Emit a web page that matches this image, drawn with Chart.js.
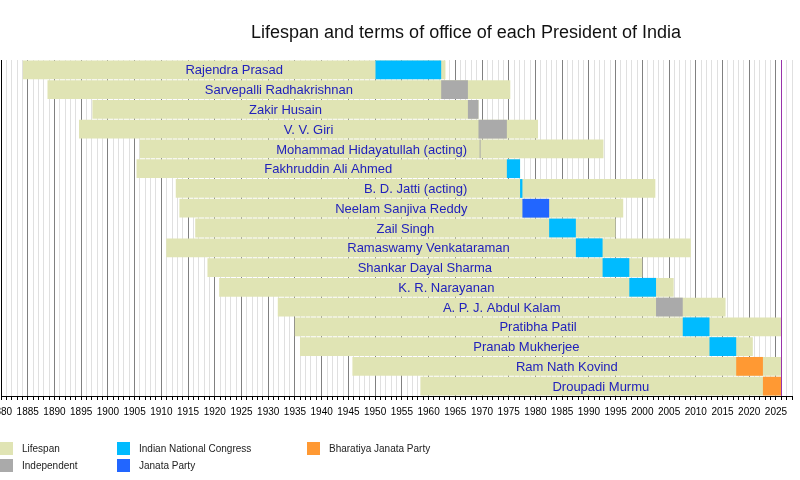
<!DOCTYPE html>
<html>
<head>
<meta charset="utf-8">
<script src="https://cdn.jsdelivr.net/npm/chart.js@4/dist/chart.umd.min.js"></script>
<style>
	html, body { margin: 0; padding: 0; background: #fff; }
	#wrap { position: relative; width: 800px; height: 480px; }
</style>
</head>
<body>
<div id="wrap"><canvas id="presidents"></canvas></div>
<script>
const NOW = 2026.0;

const names = [
	"Rajendra Prasad",
	"Sarvepalli Radhakrishnan",
	"Zakir Husain",
	"V. V. Giri",
	"Mohammad Hidayatullah (acting)",
	"Fakhruddin Ali Ahmed",
	"B. D. Jatti (acting)",
	"Neelam Sanjiva Reddy",
	"Zail Singh",
	"Ramaswamy Venkataraman",
	"Shankar Dayal Sharma",
	"K. R. Narayanan",
	"A. P. J. Abdul Kalam",
	"Pratibha Patil",
	"Pranab Mukherjee",
	"Ram Nath Kovind",
	"Droupadi Murmu",
];

const birthYears = [1884.1, 1888.7, 1897.1, 1894.6, 1905.96, 1905.36, 1912.7, 1913.38, 1916.34, 1910.92, 1918.63, 1920.82, 1931.79, 1934.97, 1935.94, 1945.75, 1958.47];
const deathYears = [1963.16, 1975.29, 1969.34, 1980.48, 1992.72, 1977.12, 2002.43, 1996.42, 1994.98, 2009.07, 1999.99, 2005.86, 2015.57, NOW, 2020.67, NOW, NOW];

const termStart = [1950.07, 1962.36, 1967.36, 1969.34, 1969.55, 1974.65, 1977.12, 1977.56, 1982.56, 1987.56, 1992.56, 1997.56, 2002.56, 2007.56, 2012.56, 2017.56, 2022.56];
const termEnd = [1962.36, 1967.36, 1969.34, 1974.65, 1969.64, 1977.12, 1977.56, 1982.56, 1987.56, 1992.56, 1997.56, 2002.56, 2007.56, 2012.56, 2017.56, 2022.56, NOW];
const termParty = ["INC", "IND", "IND", "IND", "IND", "INC", "INC", "JP", "INC", "INC", "INC", "INC", "IND", "INC", "INC", "BJP", "BJP"];

const partyKeys = ["INC", "IND", "JP", "BJP"];
const partyLabels = ["Indian National Congress", "Independent", "Janata Party", "Bharatiya Janata Party"];
const partyColors = ["#00bbff", "#aaaaaa", "#2266ff", "#ff9933"];

const lifespanColor = "#e0e4b4";
const xMin = 1880;
const xMax = 2028;

function partyData(key) {
	return termParty.map((p, i) => (p === key ? [termStart[i], termEnd[i]] : null));
}

let datasets = [
	{
		label: "Lifespan",
		data: birthYears.map((b, i) => [b, deathYears[i]]),
		backgroundColor: lifespanColor,
		order: 1,
	},
];
partyKeys.forEach((key, k) => {
	datasets = [...datasets, {
		label: partyLabels[k],
		data: partyData(key),
		backgroundColor: partyColors[k],
		minBarLength: 1,
		order: 0,
	}];
});

const overlayPlugin = {
	id: "overlay",
	afterDatasetsDraw(chart) {
		const ctx = chart.ctx;
		const x = chart.scales.x;
		const y = chart.scales.y;
		const area = chart.chartArea;

		// today line
		ctx.save();
		ctx.strokeStyle = "#9933aa";
		ctx.lineWidth = 1;
		const nx = Math.round(x.getPixelForValue(NOW)) + 0.5;
		ctx.beginPath();
		ctx.moveTo(nx, area.top);
		ctx.lineTo(nx, area.bottom);
		ctx.stroke();

		// names centred on lifespan
		ctx.font = "13px 'Liberation Sans', Arial, sans-serif";
		ctx.fillStyle = "#2222bb";
		ctx.textAlign = "center";
		ctx.textBaseline = "middle";
		names.forEach((name, i) => {
			const cx = (x.getPixelForValue(birthYears[i]) + x.getPixelForValue(deathYears[i])) / 2;
			ctx.fillText(name, cx, y.getPixelForValue(i) + 1);
		});
		ctx.restore();
	},
	afterDraw(chart) {
		const ctx = chart.ctx;
		ctx.save();
		// title
		ctx.font = "18px 'Liberation Sans', Arial, sans-serif";
		ctx.fillStyle = "#111";
		ctx.textAlign = "center";
		ctx.textBaseline = "middle";
		ctx.fillText("Lifespan and terms of office of each President of India", 466, 33);

		// legend, column-wise
		const legendItems = [
			["Lifespan", lifespanColor, 0, 442],
			["Independent", partyColors[1], 0, 459],
			["Indian National Congress", partyColors[0], 117, 442],
			["Janata Party", partyColors[2], 117, 459],
			["Bharatiya Janata Party", partyColors[3], 307, 442],
		];
		ctx.font = "10px 'Liberation Sans', Arial, sans-serif";
		ctx.textAlign = "left";
		legendItems.forEach(([label, color, lx, ly]) => {
			ctx.fillStyle = color;
			ctx.fillRect(lx, ly, 13, 13);
			ctx.fillStyle = "#222";
			ctx.fillText(label, lx + 22, ly + 7.5);
		});
		ctx.restore();
	},
};

const canvas = document.getElementById("presidents");
let myChart = new Chart(canvas, {
	type: "bar",
	data: {
		labels: names,
		datasets: datasets,
	},
	options: {
		indexAxis: "y",
		responsive: true,
		maintainAspectRatio: false,
		animation: false,
		layout: {
			padding: { top: 60, left: 1, right: 8, bottom: 56 },
		},
		datasets: {
			bar: {
				grouped: false,
				categoryPercentage: 1.0,
				barPercentage: 0.95,
				borderWidth: 0,
				borderSkipped: false,
			},
		},
		scales: {
			x: {
				type: "linear",
				min: xMin,
				max: xMax,
				afterFit: (scale) => {
					scale.paddingLeft = 0;
					scale.paddingRight = 0;
				},
				border: {
					display: true,
					color: "#000",
					width: 1,
				},
				grid: {
					display: true,
					drawTicks: true,
					tickLength: 4,
					tickColor: "#000",
					color: (c) => {
						const v = c.tick ? c.tick.value : 0;
						if (v === xMin) return "#000";
						return v % 5 === 0 ? "#808080" : "#e0e0e0";
					},
				},
				ticks: {
					stepSize: 1,
					autoSkip: false,
					maxRotation: 0,
					padding: 6,
					color: "#000",
					font: {
						family: "'Liberation Sans', Arial, sans-serif",
						size: 10,
					},
					callback: (v) => (v % 5 === 0 ? String(v) : ""),
				},
			},
			y: {
				display: false,
			},
		},
		plugins: {
			legend: { display: false },
			title: { display: false },
			tooltip: { enabled: false },
		},
	},
	plugins: [overlayPlugin],
});
</script>
</body>
</html>
